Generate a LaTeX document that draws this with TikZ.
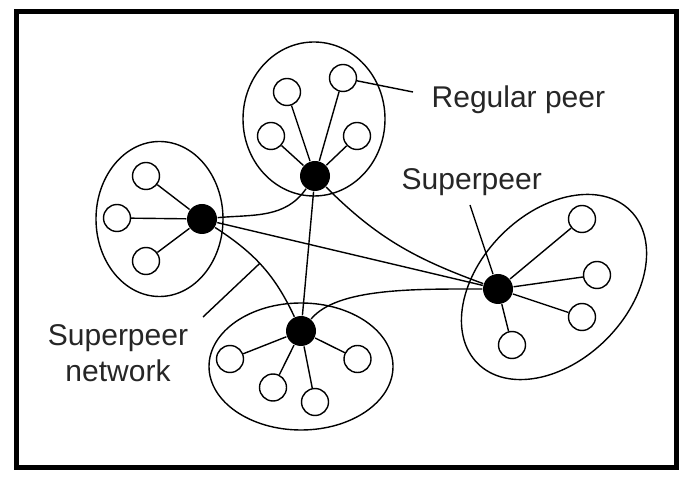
\documentclass[tikz,border=0pt]{standalone}
\usepackage{fontspec}
\setmainfont{Liberation Sans}
\usetikzlibrary{shapes.geometric}

\begin{document}
\begin{tikzpicture}[x=1pt, y=1pt, line width=1.4pt,
                    every node/.append style={align=center},
                    group/.style={draw, ellipse, inner sep=0pt},
                    peer/.style={draw, circle, fill=white, minimum size=27pt, inner sep=0pt},
                    super/.style={fill, circle, minimum size=30pt, inner sep=0pt},
                    lbl/.style={font=\fontsize{30}{36}\selectfont, inner sep=0pt, text=black!85}]

                   \useasboundingbox (0,0) rectangle (700,484);
                   \draw [line width=5pt] (16.5,16.5) rectangle (676.5,472.5);

                   % clusters
                   \node [group, minimum width=142pt, minimum height=154pt] (G_t) at (314,365) {};
                   \node [group, minimum width=127pt, minimum height=155pt] (G_l) at (159.5,265) {};
                   \node [group, minimum width=184pt, minimum height=127pt] (G_b) at (301,117.5) {};
                   \node [group, minimum width=216pt, minimum height=148pt, rotate=45] (G_r) at (554,197) {};

                   % superpeers
                   \node [super] (S_t) at (315,308) {};
                   \node [super] (S_l) at (202,265) {};
                   \node [super] (S_b) at (301,153) {};
                   \node [super] (S_r) at (498,195) {};

                   % regular peers
                   \node [peer] (R_t1) at (287,392) {};
                   \node [peer] (R_t2) at (343,406) {};
                   \node [peer] (R_t3) at (271,348) {};
                   \node [peer] (R_t4) at (357,348) {};
                   \node [peer] (R_l1) at (146,308) {};
                   \node [peer] (R_l2) at (117,266) {};
                   \node [peer] (R_l3) at (146,223) {};
                   \node [peer] (R_b1) at (230,125) {};
                   \node [peer] (R_b2) at (273,96.5) {};
                   \node [peer] (R_b3) at (315,82) {};
                   \node [peer] (R_b4) at (357.5,125) {};
                   \node [peer] (R_r1) at (582,265) {};
                   \node [peer] (R_r2) at (597,209) {};
                   \node [peer] (R_r3) at (582,167) {};
                   \node [peer] (R_r4) at (512,139) {};

                   \path (S_t) edge (R_t1) edge (R_t2) edge (R_t3) edge (R_t4);
                   \path (S_l) edge (R_l1) edge (R_l2) edge (R_l3);
                   \path (S_b) edge (R_b1) edge (R_b2) edge (R_b3) edge (R_b4);
                   \path (S_r) edge (R_r1) edge (R_r2) edge (R_r3) edge (R_r4);

                   % superpeer network
                   \path (S_l) edge [out=5, in=235] (S_t);
                   \path (S_l) edge (S_r);
                   \path (S_l) edge [out=-33, in=115] node [coordinate, pos=0.47] (net) {} (S_b);
                   \path (S_t) edge (S_b);
                   \path (S_t) edge [out=-45, in=160] (S_r);
                   \path (S_b) edge [out=50, in=180, out looseness=0.6] (S_r);

                   % labels
                   \node [lbl, anchor=base west] (regular) at (431,376) {Regular peer};
                   \node [lbl, anchor=base west] (superpeer) at (401,294) {Superpeer};
                   \node [lbl] (network) at (118,131) {Superpeer\\network};
                   \coordinate (regtip) at (413,392);
                   \coordinate (suptip) at (470,279);
                   \coordinate (nettip) at (203,167);
                   \path (R_t2) edge (regtip);
                   \path (suptip) edge (S_r);
                   \path (nettip) edge (net);
                \end{tikzpicture}
\end{document}
